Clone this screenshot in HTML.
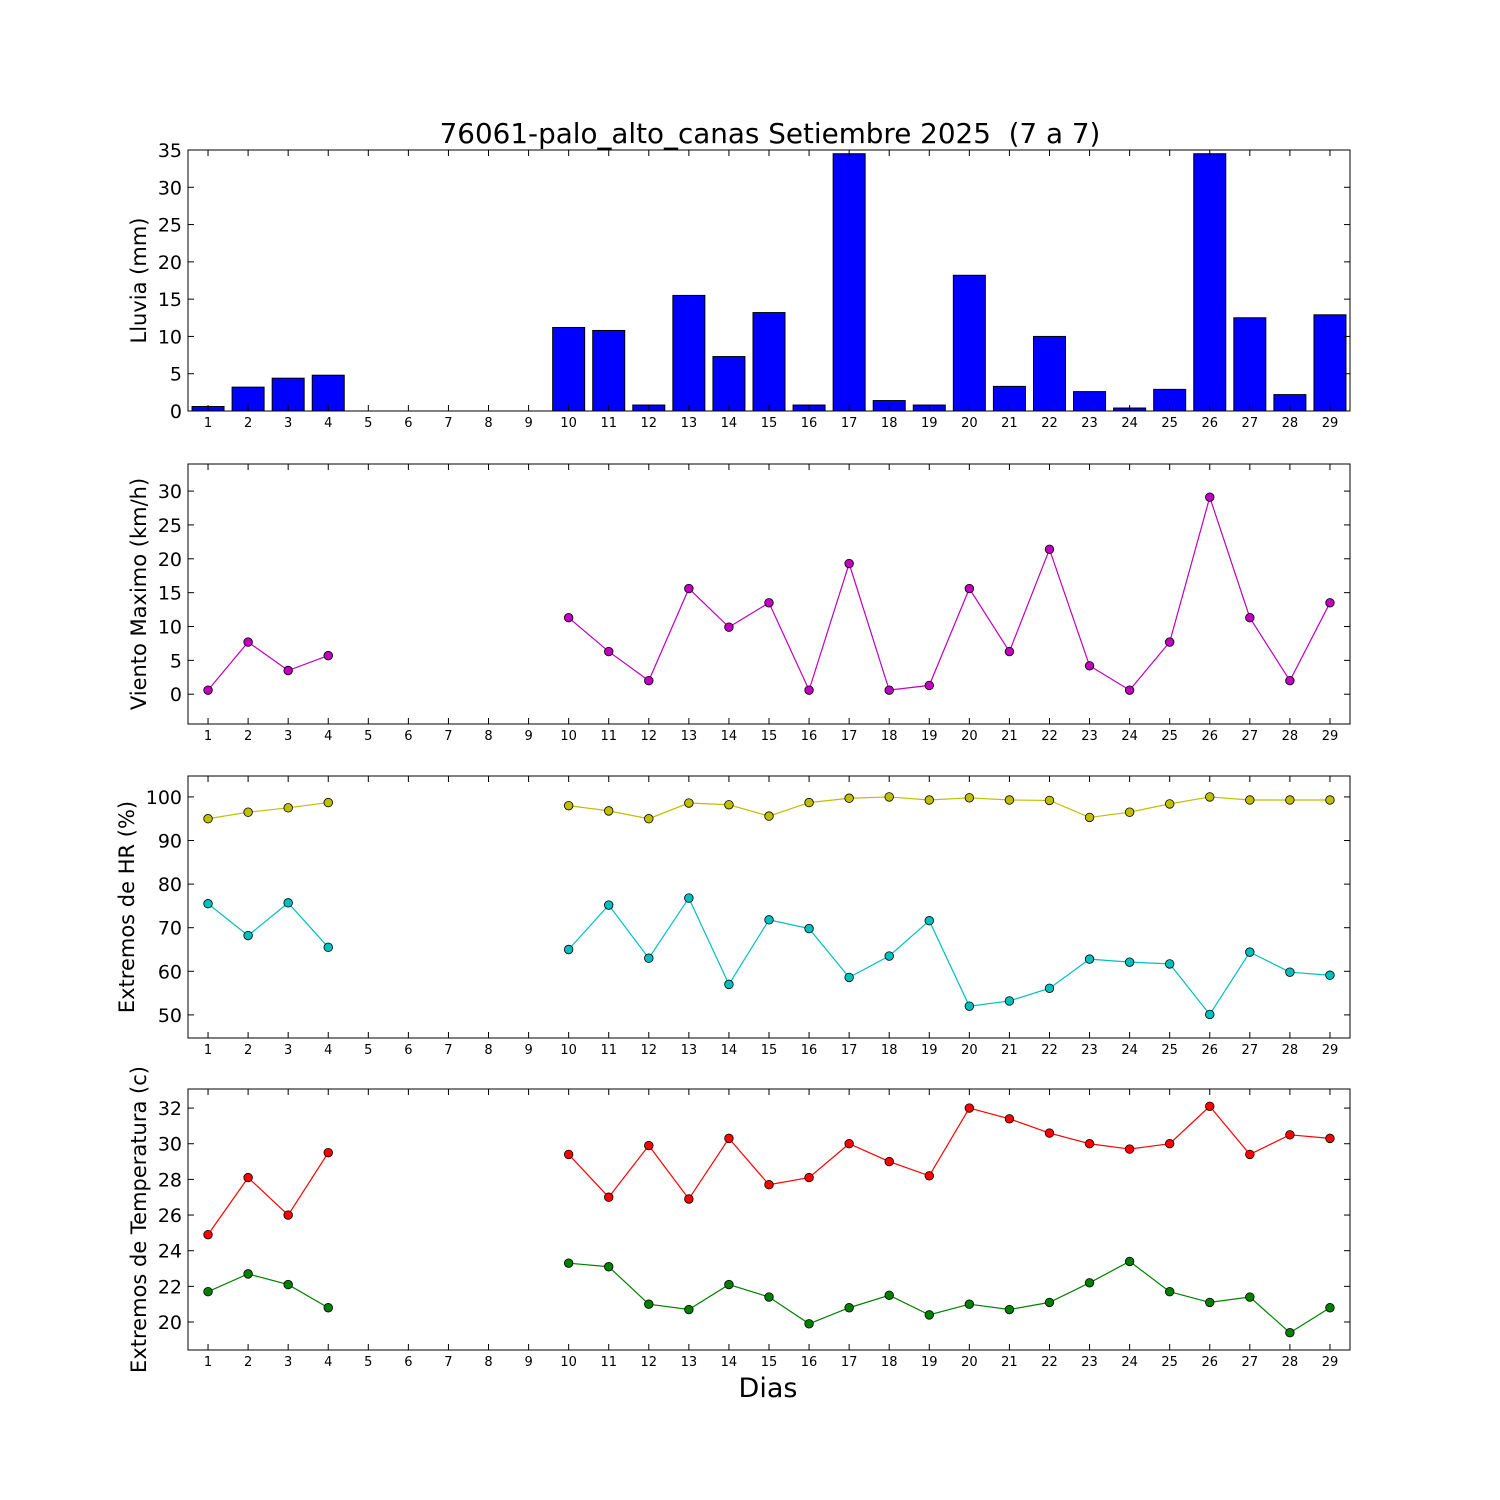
<!DOCTYPE html>
<html><head><meta charset="utf-8"><style>body{margin:0;background:#fff}svg{display:block}text{font-family:"DejaVu Sans","Liberation Sans",sans-serif;white-space:pre}</style></head>
<body>
<svg id="c" width="1500" height="1500" xmlns="http://www.w3.org/2000/svg">
<rect width="1500" height="1500" fill="#fff"/>
<text x="770" y="143" font-size="27.8" text-anchor="middle" xml:space="preserve">76061-palo_alto_canas Setiembre 2025  (7 a 7)</text>
<text x="768" y="1397" font-size="27" text-anchor="middle">Dias</text>
</svg>
<script>
const days = Array.from({length:29},(_,i)=>i+1);
const rain = [0.6,3.2,4.4,4.8,0,0,0,0,0,11.2,10.8,0.8,15.5,7.3,13.2,0.8,34.5,1.4,0.8,18.2,3.3,10,2.6,0.4,2.9,34.5,12.5,2.2,12.9];
const wind = [0.6,7.7,3.5,5.7,null,null,null,null,null,11.3,6.3,2.0,15.6,9.9,13.5,0.6,19.3,0.6,1.3,15.6,6.3,21.4,4.2,0.6,7.7,29.1,11.3,2.0,13.5];
const hrMax = [95,96.5,97.5,98.7,null,null,null,null,null,98,96.8,95,98.6,98.2,95.6,98.7,99.7,100,99.3,99.8,99.3,99.2,95.3,96.5,98.4,100,99.3,99.3,99.3];
const hrMin = [75.5,68.2,75.7,65.5,null,null,null,null,null,65,75.2,63,76.8,57,71.8,69.8,58.6,63.5,71.6,52,53.2,56.1,62.8,62.1,61.7,50.1,64.4,59.8,59.1];
const tMax = [24.9,28.1,26,29.5,null,null,null,null,null,29.4,27,29.9,26.9,30.3,27.7,28.1,30,29,28.2,32,31.4,30.6,30,29.7,30,32.1,29.4,30.5,30.3];
const tMin = [21.7,22.7,22.1,20.8,null,null,null,null,null,23.3,23.1,21,20.7,22.1,21.4,19.9,20.8,21.5,20.4,21,20.7,21.1,22.2,23.4,21.7,21.1,21.4,19.4,20.8];
const rainTicks=[0,5,10,15,20,25,30,35], windTicks=[0,5,10,15,20,25,30], hrTicks=[50,60,70,80,90,100], tTicks=[20,22,24,26,28,30,32];

const svg=document.getElementById('c'), NS='http://www.w3.org/2000/svg';
const L=188,R=1350;
const X=d=>L+(d-0.5)*(R-L)/29;
function el(t,a,p){const e=document.createElementNS(NS,t);for(const k in a)e.setAttribute(k,a[k]);(p||svg).appendChild(e);return e;}
function panel(name,top,bot,ymin,ymax,ticks,label,lx){
  const g=el('g',{});
  
  
  const Y=v=>bot-(v-ymin)/(ymax-ymin)*(bot-top);
  return {g,Y,finish(){
    el('rect',{x:L,y:top,width:R-L,height:bot-top,fill:'none',stroke:'#000','stroke-width':1},g);
    days.forEach(d=>{const x=X(d);
      el('line',{x1:x,x2:x,y1:bot,y2:bot-6,stroke:'#000'},g);
      el('line',{x1:x,x2:x,y1:top,y2:top+6,stroke:'#000'},g);
      const t=el('text',{x:x,y:bot+16,'font-size':13,'text-anchor':'middle'},g);t.textContent=d;
      
      });
    ticks.forEach(v=>{const y=Y(v);
      el('line',{x1:L,x2:L+6,y1:y,y2:y,stroke:'#000'},g);
      el('line',{x1:R,x2:R-6,y1:y,y2:y,stroke:'#000'},g);
      const t=el('text',{x:L-6,y:y+7,'font-size':19,'text-anchor':'end'},g);t.textContent=v;
      
      });
    const cy=(top+bot)/2;
    const t=el('text',{x:lx,y:cy,'font-size':21,'text-anchor':'middle',transform:`rotate(-90 ${lx} ${cy})`},g);t.textContent=label;
    
    
  }};
}
function series(p,vals,color,name){
  let segs=[],cur=[];
  vals.forEach((v,i)=>{if(v==null){if(cur.length)segs.push(cur);cur=[];}else cur.push([X(days[i]),p.Y(v)]);});
  if(cur.length)segs.push(cur);
  segs.forEach(s=>{const l=el('polyline',{points:s.map(q=>q.join(',')).join(' '),fill:'none',stroke:color,'stroke-width':1.2},p.g);
    
    });
  vals.forEach((v,i)=>{if(v==null)return;const c=el('circle',{cx:X(days[i]),cy:p.Y(v),r:4.3,fill:color,stroke:'#000','stroke-width':0.8},p.g);
    
    });
}
const p1=panel('rain',150,411,0,35,rainTicks,'Lluvia (mm)',146);
rain.forEach((v,i)=>{const x=X(days[i]);const b=el('rect',{x:x-16,y:p1.Y(v),width:32,height:p1.Y(0)-p1.Y(v),fill:'#0000ff',stroke:'#000','stroke-width':1},p1.g);
  
  });
p1.finish();
const p2=panel('wind',464,724,-4.4,34,windTicks,'Viento Maximo (km/h)',146);
series(p2,wind,'#bf00bf','wind');p2.finish();
const p3=panel('humidity',776,1038,44.7,104.8,hrTicks,'Extremos de HR (%)',134);
series(p3,hrMax,'#bfbf00','hr-max');series(p3,hrMin,'#00bfbf','hr-min');p3.finish();
const p4=panel('temperature',1089,1350,18.43,33.07,tTicks,'Extremos de Temperatura (c)',146);
series(p4,tMax,'#ff0000','temp-max');series(p4,tMin,'#008000','temp-min');p4.finish();
</script>
</body></html>
